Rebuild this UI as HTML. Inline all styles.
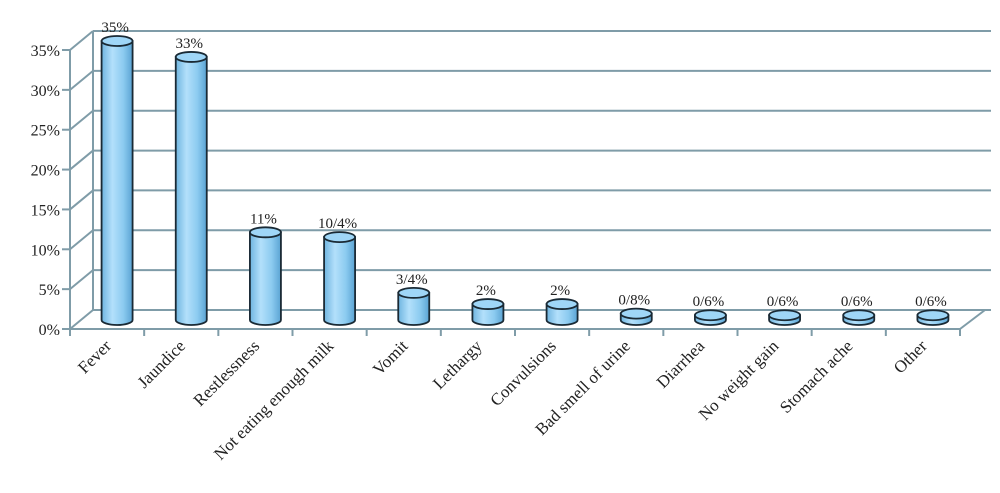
<!DOCTYPE html>
<html><head><meta charset="utf-8"><style>
body{margin:0;background:#fff}
svg{display:block;font-family:"Liberation Serif",serif}
</style></head><body>
<svg id="chart" width="1000" height="493" viewBox="0 0 1000 493">
<defs>
<linearGradient id="cyl" x1="0" x2="1" y1="0" y2="0">
<stop offset="0" stop-color="#6fb5e0"/><stop offset="0.35" stop-color="#b3e0fb"/><stop offset="0.7" stop-color="#8ccbf0"/><stop offset="1" stop-color="#5aa3d3"/>
</linearGradient>
</defs>
<g id="grid"></g>
<g id="bars"></g>
<g id="labels"></g>
</svg>
<script>
const categories=["Fever","Jaundice","Restlessness","Not eating enough milk","Vomit","Lethargy","Convulsions","Bad smell of urine","Diarrhea","No weight gain","Stomach ache","Other"];
const values=[35,33,11,10.4,3.4,2,2,0.8,0.6,0.6,0.6,0.6];
const valueLabels=["35%","33%","11%","10/4%","3/4%","2%","2%","0/8%","0/6%","0/6%","0/6%","0/6%"];
const yTicks=[0,5,10,15,20,25,30,35];
const NS="http://www.w3.org/2000/svg";
const G=document.getElementById('grid'),B=document.getElementById('bars'),L=document.getElementById('labels');
const X0=70,X1=960,FY0=329,FY35=50,DX=23,DY=-19;
const fy=v=>FY0+(FY35-FY0)*v/35;
const step=(X1-X0)/categories.length;
function mk(tag,attrs,parent){const e=document.createElementNS(NS,tag);for(const k in attrs)e.setAttribute(k,attrs[k]);parent.appendChild(e);return e;}
const ax='#7f9ca8';
yTicks.forEach((t,i)=>{
  const y=fy(t);
  const l=mk('line',{x1:X0+DX,y1:y+DY,x2:X1+DX+8,y2:y+DY,stroke:ax,'stroke-width':2},G);
  
  
  const d=mk('line',{x1:X0,y1:y,x2:X0+DX,y2:y+DY,stroke:ax,'stroke-width':2},G);
  
  
  const tk=mk('line',{x1:X0-8,y1:y,x2:X0,y2:y,stroke:ax,'stroke-width':2},G);
  
  
  const tx=mk('text',{x:X0-10,y:y+6,'text-anchor':'end','font-size':16,fill:'#222'},L);
  tx.textContent=t+'%';
  
  
});
const wl=mk('line',{x1:X0+DX,y1:fy(35)+DY,x2:X0+DX,y2:FY0+DY,stroke:ax,'stroke-width':2},G);


const fa=mk('line',{x1:X0,y1:fy(35),x2:X0,y2:FY0,stroke:ax,'stroke-width':2},G);


const xa=mk('line',{x1:X0,y1:FY0,x2:X1,y2:FY0,stroke:ax,'stroke-width':2},G);


const fr=mk('line',{x1:X1,y1:FY0,x2:X1+DX+2,y2:FY0+DY,stroke:ax,'stroke-width':2},G);


for(let i=0;i<=categories.length;i++){
  const x=X0+i*step;
  const t=mk('line',{x1:x,y1:FY0,x2:x,y2:FY0+7,stroke:ax,'stroke-width':2},G);
  
  
}
const BW=31,RY=5,BASE=320,TOP35=41;
const by=v=>BASE+(TOP35-BASE)*v/35;
categories.forEach((c,i)=>{
  const cx=X0+(i+0.5)*step+10, x=cx-BW/2, yt=by(values[i]);
  const g=mk('g',{},B);
  
  
  mk('path',{d:`M${x},${yt} L${x},${BASE} A${BW/2},${RY} 0 0 0 ${x+BW},${BASE} L${x+BW},${yt} Z`,fill:'url(#cyl)',stroke:'#1a2a35','stroke-width':1.8},g);
  mk('ellipse',{cx:cx,cy:yt,rx:BW/2,ry:RY,fill:'#9fd6f7',stroke:'#1a2a35','stroke-width':1.8},g);
  const vl=mk('text',{x:cx-2,y:yt-9,'text-anchor':'middle','font-size':15,fill:'#222'},L);
  vl.textContent=valueLabels[i];
  
  
  const lx=X0+(i+0.5)*step+5, ly=347;
  const cl=mk('text',{x:lx,y:ly,'text-anchor':'end','font-size':17,fill:'#222',transform:`rotate(-45 ${lx} ${ly})`},L);
  cl.textContent=c;
  
  
});
</script>
</body></html>
